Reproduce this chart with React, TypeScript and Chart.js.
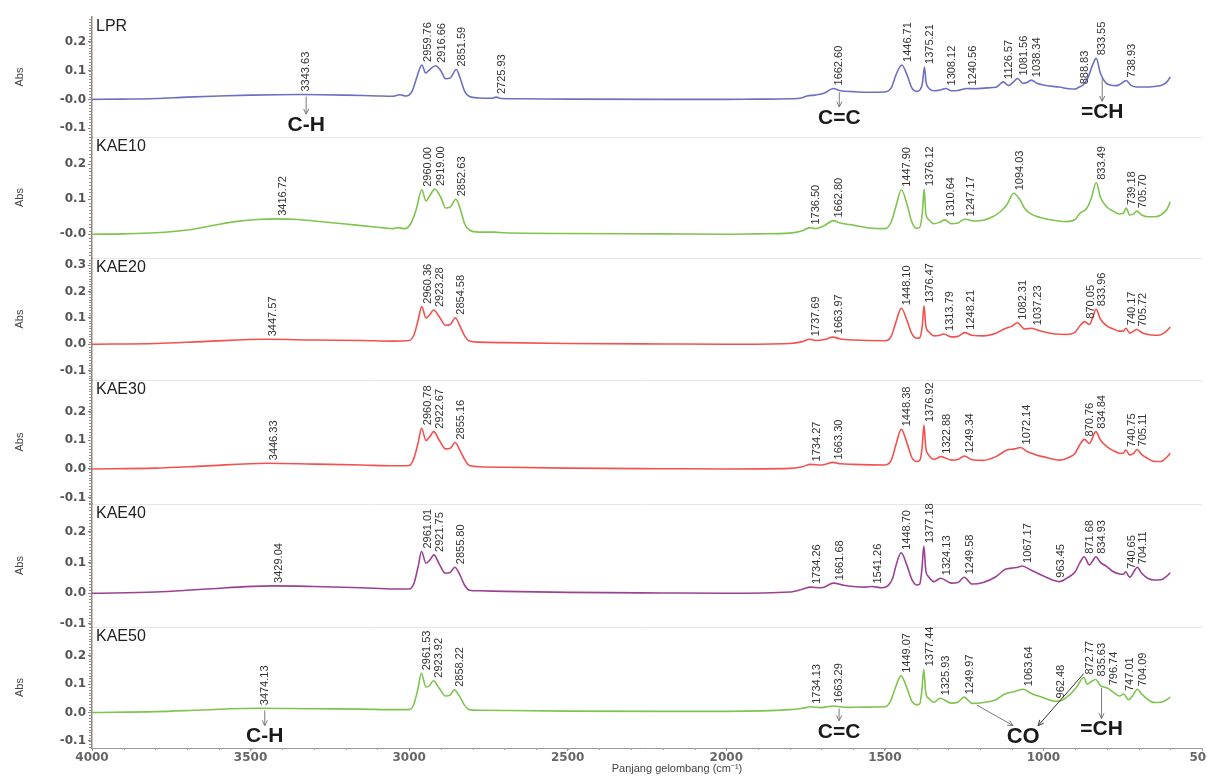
import React, { useEffect, useRef } from 'react';
import { Chart, registerables } from 'chart.js';

Chart.register(...registerables);

// Samples, top panel first
const sampleNames = ['LPR', 'KAE10', 'KAE20', 'KAE30', 'KAE40', 'KAE50'];
const lineColors = ['#6c6fc4', '#7fc44f', '#f2524f', '#f2524f', '#9b4192', '#7fc44f'];

// FTIR spectra: wavenumber (cm-1) and absorbance
const lprWn = [4000, 3900, 3800, 3700, 3600, 3500, 3343.63, 3200, 3100, 3050, 3030, 3010, 2990, 2975, 2959.76, 2948, 2935, 2916.66, 2900, 2885, 2870, 2851.59, 2838, 2825, 2810, 2780, 2740, 2725.93, 2710, 2650, 2500, 2200, 2000, 1900, 1800, 1760, 1745, 1720, 1690, 1662.6, 1640, 1600, 1550, 1500, 1480, 1465, 1446.71, 1430, 1415, 1400, 1388, 1381, 1375.21, 1370, 1362, 1345, 1325, 1308.12, 1290, 1270, 1240.56, 1215, 1180, 1150, 1135, 1126.57, 1110, 1095, 1081.56, 1065, 1050, 1038.34, 1020, 1000, 950, 910, 900, 888.83, 875, 860, 845, 833.55, 820, 805, 790, 770, 755, 738.93, 725, 705, 680, 650, 625, 610, 600];
const lprAbs = [0.0, 0.001, 0.003, 0.008, 0.012, 0.015, 0.017, 0.015, 0.012, 0.011, 0.016, 0.012, 0.03, 0.08, 0.12, 0.092, 0.104, 0.117, 0.1, 0.072, 0.075, 0.104, 0.07, 0.028, 0.01, 0.005, 0.004, 0.008, 0.003, 0.002, 0.001, 0.0, 0.0, 0.001, 0.002, 0.006, 0.012, 0.015, 0.022, 0.038, 0.03, 0.027, 0.025, 0.026, 0.04, 0.085, 0.12, 0.085, 0.04, 0.028, 0.035, 0.06, 0.113, 0.06, 0.04, 0.03, 0.033, 0.038, 0.03, 0.031, 0.038, 0.037, 0.04, 0.042, 0.055, 0.061, 0.048, 0.06, 0.073, 0.056, 0.06, 0.067, 0.056, 0.05, 0.043, 0.036, 0.036, 0.042, 0.05, 0.075, 0.12, 0.143, 0.09, 0.06, 0.05, 0.048, 0.055, 0.066, 0.05, 0.043, 0.043, 0.045, 0.05, 0.062, 0.078];

const kae10Wn = [4000, 3900, 3800, 3700, 3620, 3550, 3480, 3416.72, 3350, 3300, 3200, 3100, 3050, 3035, 3015, 2995, 2978, 2960.0, 2947, 2935, 2919.0, 2900, 2885, 2870, 2852.63, 2838, 2825, 2810, 2780, 2730, 2700, 2500, 2200, 2000, 1900, 1800, 1760, 1736.5, 1720, 1690, 1662.8, 1640, 1600, 1550, 1500, 1480, 1465, 1447.9, 1430, 1415, 1400, 1390, 1382, 1376.12, 1371, 1362, 1345, 1325, 1310.64, 1290, 1270, 1247.17, 1220, 1190, 1160, 1135, 1115, 1094.03, 1075, 1060, 1040, 1010, 970, 930, 900, 885, 865, 850, 833.49, 820, 800, 780, 760, 748, 739.18, 728, 715, 705.7, 690, 670, 650, 630, 610, 600];
const kae10Abs = [0.0, 0.001, 0.004, 0.012, 0.025, 0.036, 0.042, 0.044, 0.042, 0.038, 0.029, 0.02, 0.016, 0.019, 0.016, 0.03, 0.07, 0.127, 0.095, 0.11, 0.129, 0.105, 0.075, 0.078, 0.1, 0.07, 0.03, 0.012, 0.006, 0.006, 0.004, 0.002, 0.001, 0.0, 0.001, 0.003, 0.01, 0.019, 0.016, 0.025, 0.039, 0.032, 0.026, 0.018, 0.016, 0.035, 0.08, 0.127, 0.085, 0.035, 0.017, 0.02, 0.06, 0.129, 0.06, 0.042, 0.03, 0.035, 0.041, 0.03, 0.032, 0.043, 0.038, 0.04, 0.05, 0.065, 0.085, 0.117, 0.1, 0.075, 0.058, 0.048, 0.04, 0.036, 0.042, 0.06, 0.072, 0.1, 0.147, 0.105, 0.078, 0.066, 0.058, 0.06, 0.075, 0.055, 0.058, 0.066, 0.055, 0.05, 0.05, 0.055, 0.072, 0.093];

const kae20Wn = [4000, 3800, 3650, 3447.57, 3300, 3150, 3050, 3000, 2985, 2972, 2960.36, 2947, 2935, 2923.28, 2905, 2885, 2870, 2854.58, 2840, 2825, 2810, 2780, 2700, 2500, 2200, 2000, 1800, 1760, 1737.69, 1715, 1690, 1663.97, 1640, 1600, 1500, 1480, 1465, 1448.1, 1430, 1415, 1400, 1390, 1382, 1376.47, 1371, 1362, 1345, 1330, 1313.79, 1290, 1270, 1248.21, 1225, 1190, 1150, 1120, 1100, 1082.31, 1060, 1037.23, 1010, 970, 930, 900, 885, 870.05, 855, 845, 833.96, 820, 800, 780, 760, 748, 740.17, 728, 715, 705.72, 690, 670, 650, 630, 612, 600];
const kae20Abs = [0.0, 0.003, 0.01, 0.019, 0.016, 0.014, 0.012, 0.014, 0.035, 0.09, 0.143, 0.1, 0.112, 0.13, 0.105, 0.072, 0.075, 0.101, 0.07, 0.032, 0.012, 0.008, 0.006, 0.003, 0.001, 0.0, 0.003, 0.01, 0.019, 0.014, 0.018, 0.027, 0.02, 0.016, 0.013, 0.03, 0.085, 0.137, 0.09, 0.04, 0.023, 0.025, 0.07, 0.146, 0.07, 0.048, 0.032, 0.033, 0.039, 0.028, 0.03, 0.044, 0.034, 0.032, 0.042, 0.06, 0.068, 0.082, 0.058, 0.061, 0.05, 0.04, 0.037, 0.046, 0.07, 0.086, 0.075, 0.1, 0.133, 0.095, 0.07, 0.058, 0.05, 0.05, 0.061, 0.042, 0.05, 0.056, 0.045, 0.037, 0.034, 0.036, 0.05, 0.065];

const kae30Wn = [4000, 3800, 3650, 3446.33, 3300, 3150, 3050, 3000, 2985, 2972, 2960.78, 2947, 2935, 2922.67, 2905, 2885, 2870, 2855.16, 2840, 2825, 2810, 2780, 2700, 2500, 2200, 2000, 1800, 1760, 1734.27, 1700, 1663.3, 1640, 1600, 1500, 1480, 1465, 1448.38, 1430, 1415, 1400, 1390, 1382, 1376.92, 1371, 1362, 1345, 1322.88, 1290, 1270, 1249.34, 1225, 1190, 1150, 1115, 1090, 1072.14, 1050, 1020, 990, 950, 920, 900, 885, 870.76, 855, 834.84, 820, 800, 780, 760, 748, 740.75, 728, 715, 705.11, 690, 670, 650, 630, 612, 600];
const kae30Abs = [0.0, 0.003, 0.01, 0.02, 0.017, 0.014, 0.011, 0.012, 0.037, 0.09, 0.142, 0.099, 0.112, 0.13, 0.1, 0.07, 0.072, 0.092, 0.065, 0.033, 0.012, 0.008, 0.006, 0.003, 0.001, 0.0, 0.002, 0.008, 0.016, 0.014, 0.023, 0.018, 0.016, 0.014, 0.03, 0.085, 0.138, 0.09, 0.04, 0.026, 0.03, 0.08, 0.153, 0.075, 0.049, 0.034, 0.043, 0.031, 0.033, 0.045, 0.032, 0.03, 0.043, 0.066, 0.07, 0.075, 0.06, 0.048, 0.04, 0.031, 0.04, 0.055, 0.085, 0.103, 0.089, 0.13, 0.1, 0.078, 0.064, 0.055, 0.055, 0.066, 0.049, 0.055, 0.068, 0.05, 0.036, 0.026, 0.026, 0.04, 0.055];

const kae40Wn = [4000, 3800, 3650, 3429.04, 3300, 3150, 3050, 3000, 2985, 2972, 2961.01, 2947, 2935, 2921.75, 2905, 2885, 2870, 2855.8, 2840, 2825, 2810, 2780, 2700, 2500, 2200, 2000, 1800, 1760, 1734.26, 1700, 1661.68, 1630, 1600, 1560, 1541.26, 1510, 1490, 1475, 1465, 1448.7, 1430, 1415, 1400, 1390, 1383, 1377.18, 1371, 1362, 1345, 1324.13, 1290, 1270, 1249.58, 1225, 1190, 1150, 1120, 1100, 1080, 1067.17, 1040, 1000, 975, 963.45, 950, 925, 900, 885, 871.68, 855, 845, 834.93, 820, 800, 780, 760, 748, 740.65, 728, 715, 704.11, 690, 670, 650, 630, 612, 600];
const kae40Abs = [0.0, 0.004, 0.013, 0.024, 0.022, 0.018, 0.014, 0.014, 0.032, 0.085, 0.136, 0.098, 0.108, 0.125, 0.095, 0.065, 0.068, 0.085, 0.06, 0.026, 0.01, 0.008, 0.006, 0.003, 0.001, 0.0, 0.004, 0.013, 0.02, 0.018, 0.033, 0.026, 0.022, 0.02, 0.022, 0.018, 0.025, 0.05, 0.09, 0.132, 0.09, 0.045, 0.027, 0.03, 0.08, 0.154, 0.075, 0.054, 0.038, 0.049, 0.033, 0.035, 0.052, 0.03, 0.035, 0.054, 0.078, 0.082, 0.085, 0.089, 0.076, 0.056, 0.045, 0.041, 0.038, 0.05, 0.07, 0.1, 0.119, 0.092, 0.105, 0.119, 0.1, 0.087, 0.07, 0.063, 0.062, 0.07, 0.052, 0.07, 0.085, 0.065, 0.048, 0.043, 0.044, 0.055, 0.067];

const kae50Wn = [4000, 3800, 3650, 3474.13, 3300, 3150, 3050, 3000, 2985, 2972, 2961.53, 2947, 2935, 2923.92, 2905, 2885, 2870, 2858.22, 2840, 2825, 2810, 2780, 2700, 2500, 2200, 2000, 1800, 1760, 1734.13, 1700, 1663.29, 1620, 1560, 1500, 1482, 1466, 1449.07, 1430, 1415, 1400, 1390, 1383, 1377.44, 1371, 1362, 1345, 1325.93, 1290, 1270, 1249.97, 1225, 1190, 1150, 1120, 1090, 1063.64, 1040, 1000, 975, 962.48, 940, 915, 895, 872.77, 862, 850, 835.63, 820, 805, 796.74, 780, 760, 747.01, 732, 718, 704.09, 690, 670, 650, 630, 612, 600];
const kae50Abs = [0.0, 0.003, 0.009, 0.015, 0.013, 0.012, 0.01, 0.01, 0.03, 0.085, 0.138, 0.09, 0.095, 0.112, 0.085, 0.058, 0.062, 0.08, 0.055, 0.025, 0.01, 0.008, 0.007, 0.005, 0.004, 0.004, 0.01, 0.015, 0.02, 0.017, 0.023, 0.018, 0.019, 0.02, 0.04, 0.09, 0.129, 0.085, 0.04, 0.027, 0.03, 0.08, 0.152, 0.07, 0.05, 0.036, 0.05, 0.033, 0.036, 0.054, 0.032, 0.035, 0.045, 0.066, 0.074, 0.082, 0.068, 0.052, 0.042, 0.039, 0.044, 0.065, 0.09, 0.123, 0.1, 0.108, 0.116, 0.095, 0.088, 0.085, 0.072, 0.058, 0.065, 0.045, 0.06, 0.082, 0.065, 0.045, 0.035, 0.036, 0.045, 0.054];

// Labelled peak positions (cm-1)
const lprPeaks = [3343.63, 2959.76, 2916.66, 2851.59, 2725.93, 1662.6, 1446.71, 1375.21, 1308.12, 1240.56, 1126.57, 1081.56, 1038.34, 888.83, 833.55, 738.93];
const kae10Peaks = [3416.72, 2960.0, 2919.0, 2852.63, 1736.5, 1662.8, 1447.9, 1376.12, 1310.64, 1247.17, 1094.03, 833.49, 739.18, 705.7];
const kae20Peaks = [3447.57, 2960.36, 2923.28, 2854.58, 1737.69, 1663.97, 1448.1, 1376.47, 1313.79, 1248.21, 1082.31, 1037.23, 870.05, 833.96, 740.17, 705.72];
const kae30Peaks = [3446.33, 2960.78, 2922.67, 2855.16, 1734.27, 1663.3, 1448.38, 1376.92, 1322.88, 1249.34, 1072.14, 870.76, 834.84, 740.75, 705.11];
const kae40Peaks = [3429.04, 2961.01, 2921.75, 2855.8, 1734.26, 1661.68, 1541.26, 1448.7, 1377.18, 1324.13, 1249.58, 1067.17, 963.45, 871.68, 834.93, 740.65, 704.11];
const kae50Peaks = [3474.13, 2961.53, 2923.92, 2858.22, 1734.13, 1663.29, 1449.07, 1377.44, 1325.93, 1249.97, 1063.64, 962.48, 872.77, 835.63, 796.74, 747.01, 704.09];

// Per-panel absorbance axis ranges and relative panel heights
const panelMin = [-0.131, -0.068, -0.136, -0.122, -0.11, -0.125];
const panelMax = [0.287, 0.278, 0.328, 0.31, 0.291, 0.301];
const panelTopTick = [0.2, 0.2, 0.3, 0.2, 0.2, 0.2];
const panelHeights = [120, 121, 122, 124, 123, 121];
const zeroWithSign = [true, true, false, false, false, false];

// Wavenumber axis
const wnMin = 500;
const wnMax = 4000;
const wnStep = 500;

// Functional-group call-outs
const bandMarks = [
  { panel: 0, wn: 3343.63, text: 'C-H', at: -0.09 },
  { panel: 0, wn: 1662.6, text: 'C=C', at: -0.065 },
  { panel: 0, wn: 833.55, text: '=CH', at: -0.045 },
  { panel: 5, wn: 3474.13, text: 'C-H', at: -0.085 },
  { panel: 5, wn: 1663.29, text: 'C=C', at: -0.068 },
  { panel: 5, wn: 835.63, text: '=CH', at: -0.06 },
];
const coMark = { panel: 5, text: 'CO', wn: 1064, at: -0.085, from: [1210, 872.77] };

const spectra = [
  { wn: lprWn, abs: lprAbs, peaks: lprPeaks },
  { wn: kae10Wn, abs: kae10Abs, peaks: kae10Peaks },
  { wn: kae20Wn, abs: kae20Abs, peaks: kae20Peaks },
  { wn: kae30Wn, abs: kae30Abs, peaks: kae30Peaks },
  { wn: kae40Wn, abs: kae40Abs, peaks: kae40Peaks },
  { wn: kae50Wn, abs: kae50Abs, peaks: kae50Peaks },
];

// absorbance of a spectrum at a wavenumber (linear between stored points)
function absAt(spec: { wn: number[]; abs: number[] }, w: number): number {
  const { wn, abs } = spec;
  for (let k = 0; k < wn.length - 1; k++) {
    const a = wn[k];
    const b = wn[k + 1];
    if ((w <= a && w >= b) || (w >= a && w <= b)) {
      const t = a === b ? 0 : (w - a) / (b - a);
      return abs[k] + t * (abs[k + 1] - abs[k]);
    }
  }
  return abs[abs.length - 1];
}

function drawArrow(ctx: CanvasRenderingContext2D, x1: number, y1: number, x2: number, y2: number, color: string) {
  ctx.save();
  ctx.strokeStyle = color;
  ctx.lineWidth = 1;
  ctx.beginPath();
  ctx.moveTo(x1, y1);
  ctx.lineTo(x2, y2);
  const a = Math.atan2(y2 - y1, x2 - x1);
  const len = 6;
  ctx.moveTo(x2, y2);
  ctx.lineTo(x2 - len * Math.cos(a - 0.45), y2 - len * Math.sin(a - 0.45));
  ctx.moveTo(x2, y2);
  ctx.lineTo(x2 - len * Math.cos(a + 0.45), y2 - len * Math.sin(a + 0.45));
  ctx.stroke();
  ctx.restore();
}

const decorPlugin = {
  id: 'ftirDecor',
  beforeDatasetsDraw(chart: any) {
    const { ctx, chartArea } = chart;
    const xs = chart.scales.x;
    ctx.save();
    // faint separators between panels
    ctx.strokeStyle = '#e6e6e6';
    ctx.lineWidth = 1;
    for (let i = 1; i < sampleNames.length; i++) {
      const s = chart.scales['y' + i];
      ctx.beginPath();
      ctx.moveTo(chartArea.left + 1, Math.round(s.top) + 0.5);
      ctx.lineTo(chartArea.right, Math.round(s.top) + 0.5);
      ctx.stroke();
    }
    // ruler-style minor ticks on the absorbance axes
    ctx.strokeStyle = '#9b918c';
    for (let i = 0; i < sampleNames.length; i++) {
      const s = chart.scales['y' + i];
      const start = Math.ceil(panelMin[i] * 100);
      const end = Math.floor(panelMax[i] * 100);
      for (let v = start; v <= end; v++) {
        const y = Math.round(s.getPixelForValue(v / 100)) + 0.5;
        ctx.beginPath();
        ctx.moveTo(chartArea.left - 3, y);
        ctx.lineTo(chartArea.left, y);
        ctx.stroke();
      }
    }
    // minor ticks on the wavenumber axis
    ctx.strokeStyle = '#9a9a9a';
    for (let w = wnMin; w <= wnMax; w += 100) {
      const x = Math.round(xs.getPixelForValue(w)) + 0.5;
      ctx.beginPath();
      ctx.moveTo(x, chartArea.bottom);
      ctx.lineTo(x, chartArea.bottom + 2);
      ctx.stroke();
    }
    ctx.restore();
  },
  afterDatasetsDraw(chart: any) {
    const { ctx, chartArea } = chart;
    const xs = chart.scales.x;
    ctx.save();

    // sample names
    ctx.fillStyle = '#222';
    ctx.font = '16px "Liberation Sans", Arial, sans-serif';
    ctx.textAlign = 'left';
    ctx.textBaseline = 'middle';
    sampleNames.forEach((name, i) => {
      const s = chart.scales['y' + i];
      ctx.fillText(name, chartArea.left + 4, s.top + 10);
    });

    // vertical peak labels
    ctx.fillStyle = '#333';
    ctx.font = '11px "Liberation Sans", Arial, sans-serif';
    spectra.forEach((spec, i) => {
      const s = chart.scales['y' + i];
      spec.peaks.forEach((p) => {
        const px = xs.getPixelForValue(p);
        const py = s.getPixelForValue(absAt(spec, p));
        ctx.save();
        ctx.translate(px + 6, py - 3);
        ctx.rotate(-Math.PI / 2);
        ctx.textAlign = 'left';
        ctx.textBaseline = 'middle';
        ctx.fillText(p.toFixed(2), 0, 0);
        ctx.restore();
      });
    });

    // functional-group call-outs
    ctx.font = 'bold 21px "Liberation Sans", Arial, sans-serif';
    ctx.textAlign = 'center';
    ctx.textBaseline = 'middle';
    bandMarks.forEach((m) => {
      const s = chart.scales['y' + m.panel];
      const ax = xs.getPixelForValue(m.wn) + 6;
      const curve = s.getPixelForValue(absAt(spectra[m.panel], xs.getValueForPixel(ax)));
      const ty = s.getPixelForValue(m.at);
      const top = ty - 9;
      if (top - 2 > curve + 6) drawArrow(ctx, ax, curve + 2, ax, top - 2, '#7a7a7a');
      ctx.fillStyle = '#1a1a1a';
      ctx.fillText(m.text, ax, ty);
    });

    {
      const s = chart.scales['y' + coMark.panel];
      const cx = xs.getPixelForValue(coMark.wn);
      const cy = s.getPixelForValue(coMark.at);
      const top = cy - 10;
      const spec = spectra[coMark.panel];
      const w1 = coMark.from[0];
      drawArrow(ctx, xs.getPixelForValue(w1), s.getPixelForValue(absAt(spec, w1)) + 2, cx - 10, top - 1, '#777');
      const w2 = coMark.from[1];
      drawArrow(ctx, xs.getPixelForValue(w2), s.getPixelForValue(absAt(spec, w2)) - 4, cx + 15, top - 1, '#333');
      ctx.fillStyle = '#1a1a1a';
      ctx.font = 'bold 22px "Liberation Sans", Arial, sans-serif';
      ctx.fillText(coMark.text, cx, cy);
    }

    // wavenumber axis title
    ctx.fillStyle = '#444';
    ctx.font = '11px "Liberation Sans", Arial, sans-serif';
    ctx.textAlign = 'center';
    ctx.textBaseline = 'middle';
    ctx.fillText('Panjang gelombang (cm\u207B\u00B9)', (chartArea.left + chartArea.right) / 2 + 30, chart.height - 7);
    ctx.restore();
  },
};

const tickFont = { family: '"DejaVu Sans", sans-serif', size: 12, weight: 'bold' as const };

function buildScales() {
  const scales: any = {
    x: {
      type: 'linear',
      position: 'bottom',
      reverse: true,
      min: wnMin,
      max: wnMax,
      ticks: {
        stepSize: wnStep,
        autoSkip: false,
        maxRotation: 0,
        padding: 0,
        color: '#666',
        font: tickFont,
        callback: (v: number) => String(v),
      },
      grid: { drawOnChartArea: false, drawTicks: true, tickLength: 3, color: '#9a9a9a' },
      border: { display: true, color: '#9a9a9a', width: 1 },
      afterFit: (s: any) => {
        s.height = 28;
        s.paddingLeft = 0;
        s.paddingRight = 0;
      },
    },
  };
  sampleNames.forEach((_, i) => {
    scales['y' + i] = {
      type: 'linear',
      position: 'left',
      stack: 'panels',
      stackWeight: panelHeights[i],
      weight: sampleNames.length - i,
      min: panelMin[i],
      max: panelMax[i],
      ticks: {
        stepSize: 0.1,
        autoSkip: false,
        includeBounds: false,
        padding: 2,
        color: '#555',
        font: tickFont,
        callback: (v: number) => (Math.abs(v) < 1e-9 ? (zeroWithSign[i] ? '-0.0' : '0.0') : v.toFixed(1)),
      },
      afterBuildTicks: (s: any) => {
        s.ticks = s.ticks.filter((t: any) => t.value <= panelTopTick[i] + 1e-9 && t.value >= panelMin[i]);
      },
      grid: { drawOnChartArea: false, drawTicks: true, tickLength: 4, color: '#8d8480' },
      border: { display: true, color: '#8d8480', width: 1.5 },
      title: {
        display: true,
        text: 'Abs',
        color: '#444',
        font: { family: '"Liberation Sans", Arial, sans-serif', size: 11 },
        padding: { top: 13, bottom: 0 },
      },
      afterFit: (s: any) => {
        s.width = 92;
        s.paddingTop = 0;
        s.paddingBottom = 0;
      },
    };
  });
  return scales;
}

export default function App() {
  const canvasRef = useRef<HTMLCanvasElement>(null);

  useEffect(() => {
    const canvas = canvasRef.current;
    if (!canvas) return;
    const chart = new Chart(canvas, {
      type: 'line',
      data: {
        datasets: spectra.map((spec, i) => ({
          label: sampleNames[i],
          data: spec.wn.map((w, k) => ({ x: w, y: spec.abs[k] })),
          yAxisID: 'y' + i,
          borderColor: lineColors[i],
          borderWidth: 1.6,
          pointRadius: 0,
          cubicInterpolationMode: 'monotone' as const,
          fill: false,
        })),
      },
      options: {
        responsive: false,
        animation: false,
        devicePixelRatio: 1,
        events: [],
        layout: { padding: { top: 17, right: 5, left: 0, bottom: 0 } },
        plugins: { legend: { display: false }, tooltip: { enabled: false } },
        scales: buildScales(),
      },
      plugins: [decorPlugin],
    } as any);
    return () => chart.destroy();
  }, []);

  return (
    <div style={{ position: 'fixed', left: 0, top: 0, width: 1207, height: 776, background: '#fff' }}>
      <canvas ref={canvasRef} width={1207} height={776} style={{ display: 'block', width: 1207, height: 776 }} />
    </div>
  );
}
